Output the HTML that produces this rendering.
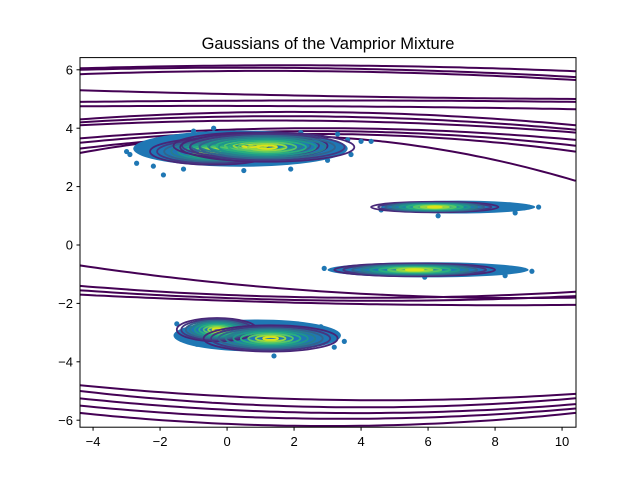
<!DOCTYPE html>
<html><head><meta charset="utf-8"><style>
body{margin:0;background:#fff}
svg{display:block;font-family:"Liberation Sans","DejaVu Sans",sans-serif}
</style></head><body>
<svg id="chart" width="640" height="480" viewBox="0 0 640 480">
<text x="328" y="49" text-anchor="middle" font-size="16.5">Gaussians of the Vamprior Mixture</text>
<defs><clipPath id="clip"><rect x="80" y="57.6" width="496" height="369.6"/></clipPath></defs>
<g id="plot" clip-path="url(#clip)"></g>
<rect x="80" y="57.6" width="496" height="369.6" fill="none" stroke="#000" stroke-width="1"/>
<g id="axes"></g>
</svg>
<script>
// data
const xTicks=[-4,-2,0,2,4,6,8,10];
const yTicks=[-6,-4,-2,0,2,4,6];
const bodyCx=[0.4,6.9,6.0,0.9];
const bodyCy=[3.3,1.3,-0.85,-3.1];
const bodyRx=[3.2,2.3,3.0,2.5];
const bodyRy=[0.62,0.22,0.26,0.55];
const compCx=[-0.4,0.7,1.2,6.2,5.6,-0.3,1.3];
const compCy=[3.2,3.4,3.35,1.3,-0.85,-2.9,-3.2];
const compRx=[1.9,2.3,2.6,1.9,2.4,1.2,2.0];
const compRy=[0.45,0.45,0.5,0.18,0.22,0.4,0.45];
const outX=[-2.9,-2.7,-1.9,-1.3,3.3,3.6,4.0,4.3,3.0,1.9,-0.4,2.6,4.6,9.0,9.3,6.3,8.6,2.9,9.1,8.3,5.9,-1.5,-0.9,1.4,3.2,3.5,2.8,-3.0,-2.2,-1.0,0.5,2.2,3.7];
const outY=[3.1,2.8,2.4,2.6,3.8,3.6,3.55,3.55,2.9,2.6,4.0,3.5,1.2,1.3,1.3,1.0,1.1,-0.8,-0.9,-1.05,-1.1,-2.7,-3.4,-3.8,-3.5,-3.3,-2.8,3.2,2.7,3.9,2.55,3.85,3.1];
// wide component contour lines: y at x=-4.4, x=3, x=10.4
const lineL=[6.05,6.0,5.85,5.3,4.9,4.75,4.3,4.2,4.1,3.65,3.5,3.3,3.15,-0.7,-1.4,-1.55,-1.7,-4.8,-5.0,-5.25,-5.5,-5.75];
const lineM=[6.15,6.05,5.95,5.1,4.95,4.75,4.55,4.4,4.25,4.0,3.9,3.8,3.7,-1.6,-1.8,-1.9,-2.0,-5.3,-5.55,-5.75,-5.95,-6.2];
const lineR=[5.95,5.75,5.65,5.0,4.9,4.65,4.1,3.95,3.85,3.6,3.4,3.2,2.2,-1.8,-1.6,-1.75,-2.05,-5.1,-5.25,-5.45,-5.6,-5.75];
const levelColors=['#482677','#453781','#33638d','#287d8e','#1f968b','#29af7f','#55c667','#95d840','#dce319'];

const NS='http://www.w3.org/2000/svg';
const X=v=>80+(v+4.39)*33.5;
const Y=v=>245-v*29.2;
const plot=document.getElementById('plot'),axes=document.getElementById('axes');
function mk(tag,at,parent){const e=document.createElementNS(NS,tag);for(const k in at)e.setAttribute(k,at[k]);parent.appendChild(e);return e;}

for(let i=0;i<lineL.length;i++){
  const x0=-4.4,x1=3,x2=10.4;
  let d='';
  for(let k=0;k<=60;k++){
    const x=x0+(x2-x0)*k/60;
    const l0=((x-x1)*(x-x2))/((x0-x1)*(x0-x2)),l1=((x-x0)*(x-x2))/((x1-x0)*(x1-x2)),l2=((x-x0)*(x-x1))/((x2-x0)*(x2-x1));
    const y=lineL[i]*l0+lineM[i]*l1+lineR[i]*l2;
    d+=(k?'L':'M')+X(x).toFixed(1)+' '+Y(y).toFixed(1);
  }
  const p=mk('path',{d:d,fill:'none',stroke:'#440154','stroke-width':2},plot);
  
  
}
for(let i=0;i<bodyCx.length;i++){
  const e=mk('ellipse',{cx:X(bodyCx[i]),cy:Y(bodyCy[i]),rx:bodyRx[i]*33.5,ry:bodyRy[i]*29.2,fill:'#1f77b4'},plot);
  
  
}
for(let i=0;i<outX.length;i++){
  const c=mk('circle',{cx:X(outX[i]),cy:Y(outY[i]),r:2.6,fill:'#1f77b4'},plot);
  
  
}
for(let i=0;i<compCx.length;i++){
  for(let l=0;l<levelColors.length;l++){
    const s=1-l/levelColors.length;
    const e=mk('ellipse',{cx:X(compCx[i]),cy:Y(compCy[i]),rx:compRx[i]*33.5*s,ry:compRy[i]*29.2*s,fill:'none',stroke:levelColors[l],'stroke-width':1.8},plot);
    
    
  }
}
xTicks.forEach(t=>{
  const x=X(t);
  const tk=mk('line',{x1:x,x2:x,y1:427.2,y2:430.7,stroke:'#000'},axes);
  
  
  const tx=mk('text',{x:x,y:446,'text-anchor':'middle','font-size':13},axes);tx.textContent=t<0?'\u2212'+(-t):t;
  
  
});
yTicks.forEach(t=>{
  const y=Y(t);
  const tk=mk('line',{x1:76.5,x2:80,y1:y,y2:y,stroke:'#000'},axes);
  
  
  const tx=mk('text',{x:73,y:y+4.6,'text-anchor':'end','font-size':13},axes);tx.textContent=t<0?'\u2212'+(-t):t;
  
  
});
</script>
</body></html>
